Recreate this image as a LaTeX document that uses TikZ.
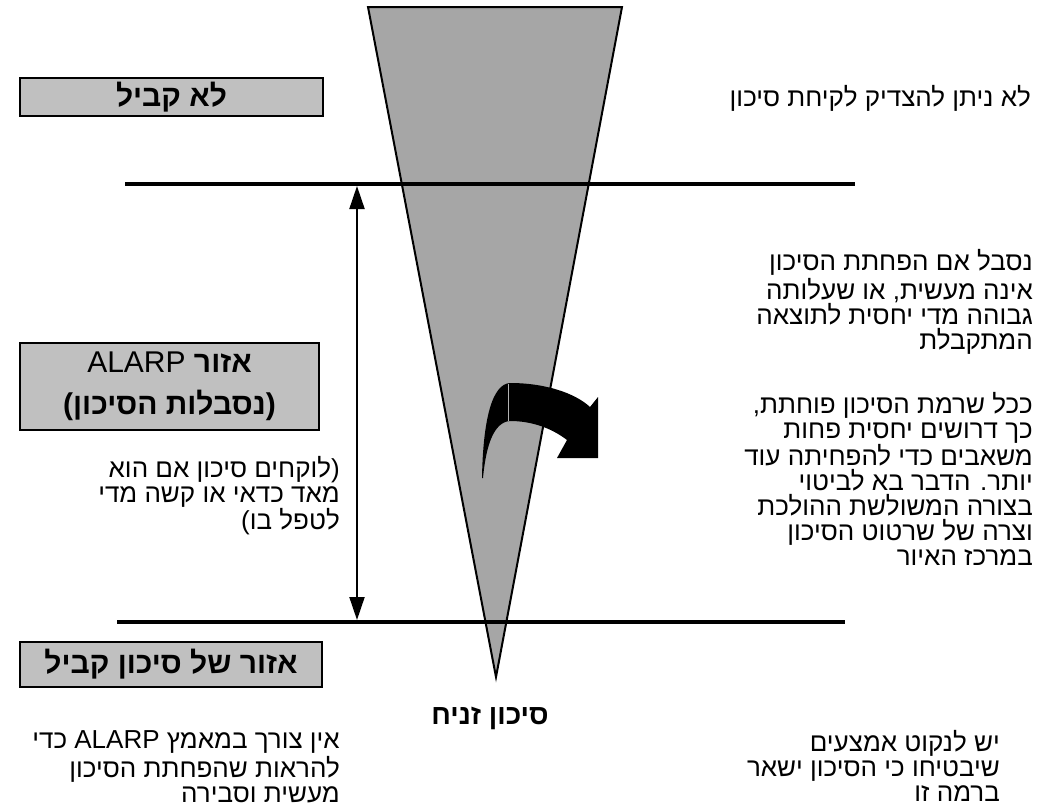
\documentclass[tikz,border=0pt]{standalone}
\usepackage{fontspec}
\setmainfont{Liberation Sans}
\newfontfamily\heb[Script=Hebrew]{Liberation Sans}
\TeXXeTstate=1
\usetikzlibrary{arrows.meta}
\definecolor{trigrey}{HTML}{A6A6A6}
\definecolor{boxgrey}{HTML}{C0C0C0}
\newcommand{\RL}[1]{\beginR #1\endR}
\tikzset{
  lbox/.style={draw=black, line width=1.6pt, fill=boxgrey, inner sep=0pt,
    font=\heb\fontsize{30}{42}\selectfont\bfseries, align=center},
  para/.style={inner sep=0pt, anchor=north east, align=right,
    font=\heb\fontsize{26}{25}\selectfont},
  hline/.style={line width=4pt},
}
\begin{document}
\begin{tikzpicture}[x=1pt,y=-1pt]
\useasboundingbox (0,0) rectangle (1039,811);
% triangle
\node[coordinate] (t1) at (368,7) {};
\node[coordinate] (t2) at (622,7) {};
\node[coordinate] (t3) at (496,677) {};
\draw[line width=2pt, fill=trigrey, line join=miter] (t1) -- (t2) -- (t3) -- cycle;
% horizontal lines
\coordinate (la) at (125,184);
\coordinate (lb) at (855,184);
\coordinate (lc) at (117,622);
\coordinate (ld) at (845,622);
\draw[hline] (la) -- (lb);
\draw[hline] (lc) -- (ld);
% vertical double arrow
\coordinate (va) at (357,186);
\coordinate (vb) at (357,620);
\draw[line width=2pt, {Triangle[width=15pt,length=23pt]}-{Triangle[width=15pt,length=23pt]}] (va) -- (vb);
% curved arrow
\fill[black] (482,478) .. controls (483,420) and (492,384) .. (510,383)
  .. controls (545,383) and (575,393) .. (590,407)
  -- (598,397) -- (598,458) -- (557,458) -- (567,440)
  .. controls (550,427) and (530,421) .. (510,421)
  .. controls (494,422) and (486,445) .. (483,478) -- cycle;
\draw[line width=0.8pt, white!70!black] (508,384) -- (508,421);
% boxes
\node[lbox, minimum width=303pt, minimum height=38pt] (b1) at (171.5,97) {\RL{לא קביל}};
\node[lbox, minimum width=299pt, minimum height=87pt] (b2) at (169.5,386.5)
  {\RL{אזור \mdseries ALARP}\\ \RL{(נסבלות הסיכון)}};
\node[lbox, minimum width=302pt, minimum height=45pt] (b3) at (171,664.5) {\RL{אזור של סיכון קביל}};
% texts
\node[para] (r1) at (1031,85) {\strut\RL{לא ניתן להצדיק לקיחת סיכון}};
\node[para] (r2) at (1033,249) {\strut\RL{נסבל אם הפחתת הסיכון}\\ \RL{אינה מעשית, או שעלותה}\\ \RL{גבוהה מדי יחסית לתוצאה}\\ \RL{המתקבלת}};
\node[para] (r3) at (1033,392) {\strut\RL{ככל שרמת הסיכון פוחתת,}\\ \RL{כך דרושים יחסית פחות}\\ \RL{משאבים כדי להפחיתה עוד}\\ \RL{יותר. הדבר בא לביטוי}\\ \RL{בצורה המשולשת ההולכת}\\ \RL{וצרה של שרטוט הסיכון}\\ \RL{במרכז האיור}};
\node[para] (r4) at (1000,730) {\strut\RL{יש לנקוט אמצעים}\\ \RL{שיבטיחו כי הסיכון ישאר}\\ \RL{ברמה זו}};
\node[para] (l1) at (340,456) {\strut\RL{(לוקחים סיכון אם הוא}\\ \RL{מאד כדאי או קשה מדי}\\ \RL{לטפל בו)}};
\node[para] (l2) at (340,730) {\strut\RL{אין צורך במאמץ ALARP כדי}\\ \RL{להראות שהפחתת הסיכון}\\ \RL{מעשית וסבירה}};
\node[inner sep=0pt, font=\heb\fontsize{28}{30}\selectfont\bfseries] (c1) at (490,718) {\RL{סיכון זניח}};
\end{tikzpicture}
\end{document}
